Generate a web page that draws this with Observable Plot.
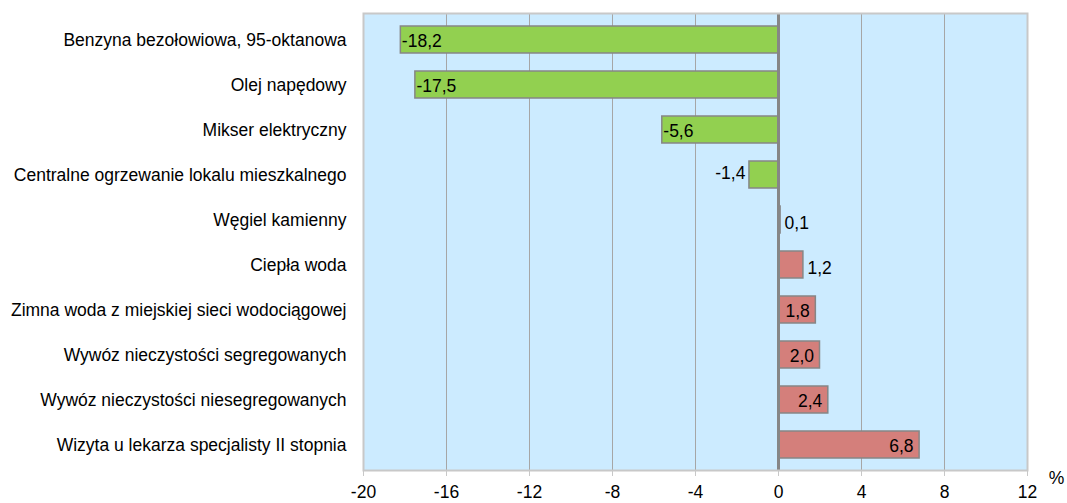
<!DOCTYPE html>
<html>
<head>
<meta charset="utf-8">
<script src="https://cdn.jsdelivr.net/npm/d3@7"></script>
<script src="https://cdn.jsdelivr.net/npm/@observablehq/plot@0.6"></script>
<style>
  body { margin: 0; background: #fff; }
  #chart svg { display: block; }
</style>
</head>
<body>
<div id="chart"></div>
<script>
const categories = [
  "Benzyna bezołowiowa, 95-oktanowa",
  "Olej napędowy",
  "Mikser elektryczny",
  "Centralne ogrzewanie lokalu mieszkalnego",
  "Węgiel kamienny",
  "Ciepła woda",
  "Zimna woda z miejskiej sieci wodociągowej",
  "Wywóz nieczystości segregowanych",
  "Wywóz nieczystości niesegregowanych",
  "Wizyta u lekarza specjalisty II stopnia"
];
const values = [-18.2, -17.5, -5.6, -1.4, 0.1, 1.2, 1.8, 2.0, 2.4, 6.8];
const xTicks = [-20, -16, -12, -8, -4, 0, 4, 8, 12];

const data = categories.map((name, i) => ({name, value: values[i]}));
const fmt = v => v.toFixed(1).replace(".", ",");
const inside = d => Math.abs(d.value) >= 1.5;

const font = "'Liberation Sans', Arial, sans-serif";
const fs = 17.5;

const chart = Plot.plot({
  width: 1067,
  height: 503,
  marginLeft: 363,
  marginRight: 40,
  marginTop: 13,
  marginBottom: 33,
  style: {fontFamily: font, fontSize: fs + "px", color: "#000", background: "#fff"},
  x: {domain: [-20, 12], ticks: xTicks, label: null},
  y: {domain: categories, paddingInner: 0.4, paddingOuter: 0.2, label: null},
  marks: [
    Plot.frame({fill: "#CCEBFF", stroke: null}),
    Plot.gridX(xTicks, {stroke: "#a6a6a6", strokeOpacity: 1, strokeWidth: 1}),
    Plot.barX(data, {
      x: "value", y: "name",
      fill: d => d.value < 0 ? "#92D050" : "#D47F7B",
      stroke: "#868686", strokeWidth: 1.5
    }),
    Plot.ruleX([0], {stroke: "#868686", strokeWidth: 3}),
    Plot.frame({stroke: "#c8c8c8", strokeWidth: 2}),
    Plot.axisX({ticks: xTicks, tickSize: 6, tickPadding: 9, stroke: "#c8c8c8", tickFormat: d => String(d), fontSize: fs, fill: "#000"}),
    Plot.axisY({tickSize: 0, tickPadding: 17, fontSize: fs, fill: "#000"}),
    // inside labels, negative
    Plot.text(data.filter(d => inside(d) && d.value < 0), {
      x: "value", y: "name", text: d => fmt(d.value),
      textAnchor: "start", dx: 1, fill: "#000", fontSize: fs, dy: 1
    }),
    // inside labels, positive
    Plot.text(data.filter(d => inside(d) && d.value >= 0), {
      x: "value", y: "name", text: d => fmt(d.value),
      textAnchor: "end", dx: -6, fill: "#000", fontSize: fs, dy: 1
    }),
    // outside labels, negative
    Plot.text(data.filter(d => !inside(d) && d.value < 0), {
      x: "value", y: "name", text: d => fmt(d.value),
      textAnchor: "end", dx: -4, fill: "#000", fontSize: fs, dy: -2
    }),
    // outside labels, positive
    Plot.text(data.filter(d => !inside(d) && d.value >= 0), {
      x: "value", y: "name", text: d => fmt(d.value),
      textAnchor: "start", dx: 4, fill: "#000", fontSize: fs, dy: 3
    }),
    Plot.text(["%"], {frameAnchor: "bottom-right", text: d => d, dx: 29, dy: 13, textAnchor: "middle", fontSize: fs, fill: "#000"})
  ]
});
document.getElementById("chart").appendChild(chart);
</script>
</body>
</html>
